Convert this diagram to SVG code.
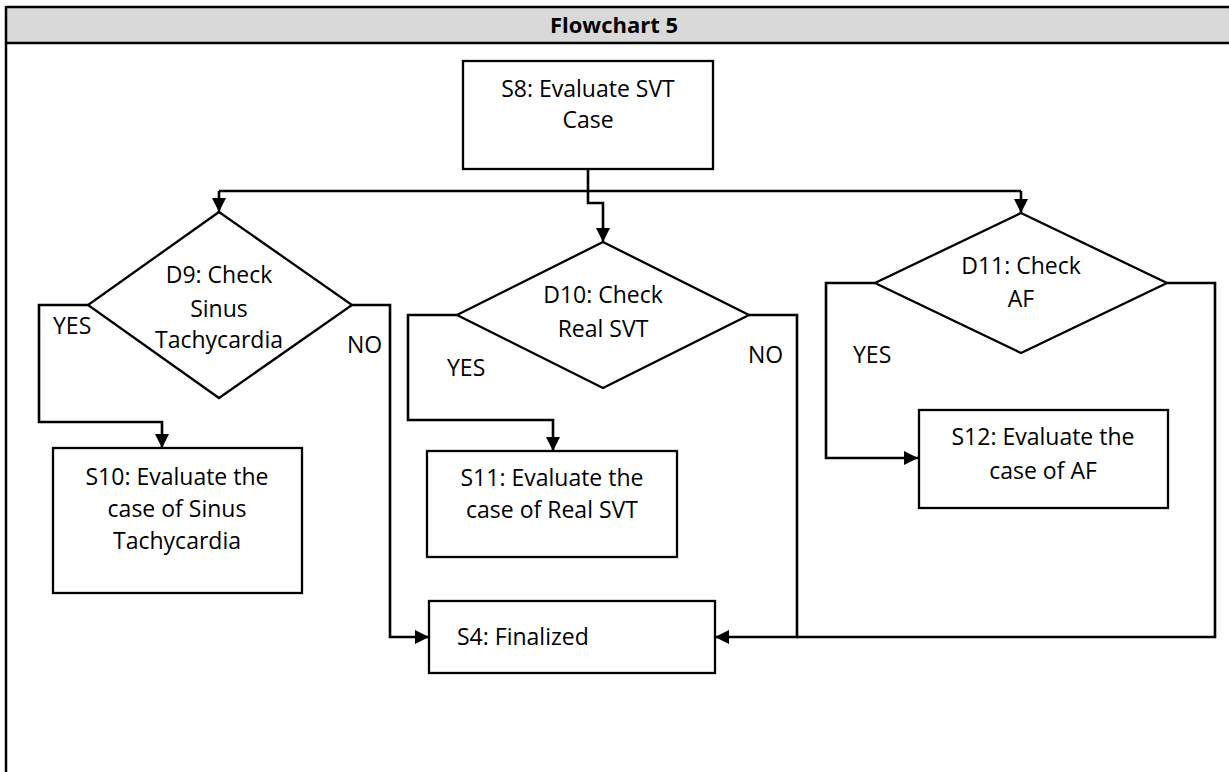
<svg xmlns="http://www.w3.org/2000/svg" width="1229" height="772" viewBox="0 0 1229 772">
<style>
.box{fill:#fff;stroke:#000;stroke-width:2.3}
.t{font-family:"Open Sans","Liberation Sans",sans-serif;font-size:23px;fill:#000;text-anchor:middle}
.l{font-family:"Open Sans","Liberation Sans",sans-serif;font-size:23px;fill:#000}
.c{fill:none;stroke:#000;stroke-width:2.6}
</style>
<defs>
<marker id="ah" markerUnits="userSpaceOnUse" markerWidth="16" markerHeight="16" refX="14" refY="8" orient="auto">
<path d="M0,1 L14,8 L0,15 z" fill="#000"/>
</marker>
</defs>
<rect width="1229" height="772" fill="#fff"/>
<g id="frame">
<rect x="6" y="7" width="1225" height="36" fill="#d9d9d9"/>
<path d="M6,7 H1229 M6,43 H1229 M6,6 V772" stroke="#000" stroke-width="2.5" fill="none"/>
<text x="614" y="33" font-family="Open Sans, Liberation Sans, sans-serif" font-size="22" font-weight="bold" text-anchor="middle">Flowchart 5</text>
</g>
<g id="connectors">
<path class="c" d="M588,169 V203 H603 V242" marker-end="url(#ah)"/>
<path class="c" d="M219,191 H1021"/>
<path class="c" d="M219,191 V212" marker-end="url(#ah)"/>
<path class="c" d="M1021,191 V213" marker-end="url(#ah)"/>
<path class="c" d="M88,305 H39 V422 H162 V448" marker-end="url(#ah)"/>
<path class="c" d="M352,305 H390 V637 H429" marker-end="url(#ah)"/>
<path class="c" d="M457,315 H408 V420 H553 V451" marker-end="url(#ah)"/>
<path class="c" d="M749,315 H797 V637 H715" marker-end="url(#ah)"/>
<path class="c" d="M875,283 H826 V458 H918" marker-end="url(#ah)"/>
<path class="c" d="M1167,283 H1215 V637 H797"/>
<text class="l" x="53" y="334">YES</text>
<text class="l" x="347" y="353">NO</text>
<text class="l" x="447" y="376">YES</text>
<text class="l" x="748" y="363">NO</text>
<text class="l" x="853" y="363">YES</text>
</g>
<g id="S8">
<rect class="box" x="463" y="61" width="250" height="108"/>
<text class="t" x="588" y="97">S8: Evaluate SVT</text>
<text class="t" x="588" y="128">Case</text>
</g>
<g id="D9">
<polygon class="box" points="219,212 352,305 219,398 88,305"/>
<text class="t" x="219" y="283">D9: Check</text>
<text class="t" x="219" y="317">Sinus</text>
<text class="t" x="219" y="348">Tachycardia</text>
</g>
<g id="D10">
<polygon class="box" points="603,242 749,315 603,388 457,315"/>
<text class="t" x="603" y="303">D10: Check</text>
<text class="t" x="603" y="337">Real SVT</text>
</g>
<g id="D11">
<polygon class="box" points="1021,213 1167,283 1021,353 875,283"/>
<text class="t" x="1021" y="274">D11: Check</text>
<text class="t" x="1021" y="307">AF</text>
</g>
<g id="S10">
<rect class="box" x="53" y="448" width="249" height="145"/>
<text class="t" x="177" y="485">S10: Evaluate the</text>
<text class="t" x="177" y="517">case of Sinus</text>
<text class="t" x="177" y="549">Tachycardia</text>
</g>
<g id="S11">
<rect class="box" x="427" y="451" width="250" height="106"/>
<text class="t" x="552" y="486">S11: Evaluate the</text>
<text class="t" x="552" y="518">case of Real SVT</text>
</g>
<g id="S12">
<rect class="box" x="919" y="410" width="249" height="98"/>
<text class="t" x="1043" y="445">S12: Evaluate the</text>
<text class="t" x="1043" y="479">case of AF</text>
</g>
<g id="S4">
<rect class="box" x="429" y="601" width="286" height="72"/>
<text class="l" x="457" y="645">S4: Finalized</text>
</g>
</svg>
